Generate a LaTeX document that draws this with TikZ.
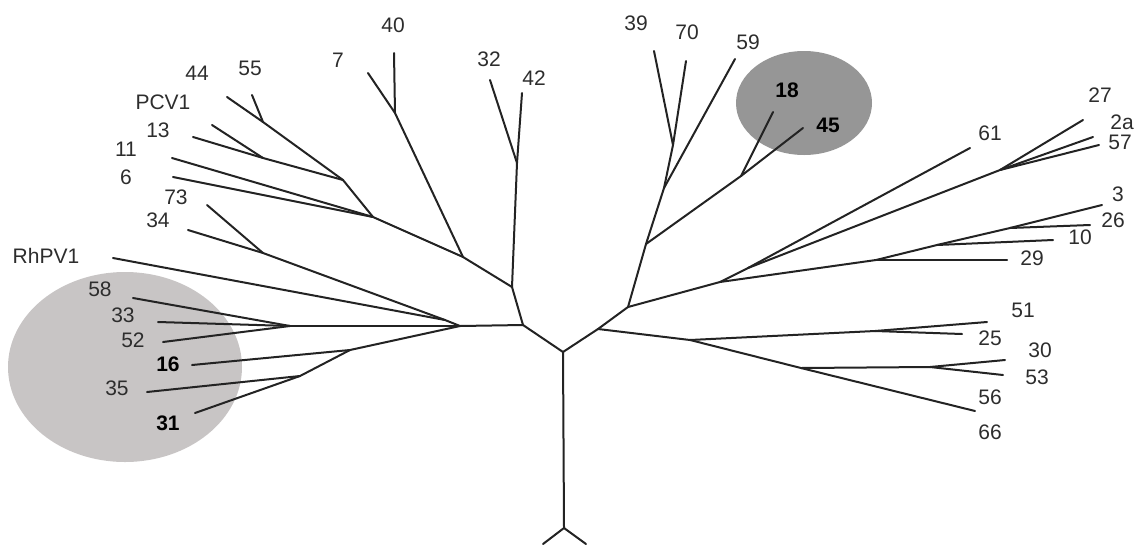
\documentclass[tikz,border=0pt]{standalone}
\usepackage{fontspec}
\setmainfont{Liberation Sans}
\definecolor{linec}{RGB}{35,35,35}
\definecolor{txtc}{RGB}{45,45,45}
\definecolor{blobl}{RGB}{200,197,197}
\definecolor{blobd}{RGB}{150,150,150}
\begin{document}
\begin{tikzpicture}[x=1pt,y=-1pt,
  br/.style={draw=linec, line width=2pt, line cap=round, line join=round},
  lbl/.style={text=txtc, font=\fontsize{21}{21}\selectfont, inner sep=0pt, anchor=center},
  lblb/.style={lbl, text=black, font=\fontsize{21}{21}\selectfont\bfseries}]
\useasboundingbox (0,0) rectangle (1139,544);
% highlighted clusters
\fill[blobl] (125,367) ellipse [x radius=117, y radius=95];
\fill[blobd] (804,103) ellipse [x radius=68, y radius=52];
% ---------- coordinates ----------
\coordinate (R0) at (564,528);
\coordinate (Rb1) at (543,544);
\coordinate (Rb2) at (586,544);
\coordinate (R1) at (563,352);
\coordinate (L1) at (523,325);
\coordinate (U1) at (512,287);
\coordinate (J3242) at (517,163);
\coordinate (t32) at (490,80);
\coordinate (t42) at (522,93);
\coordinate (U2) at (463,257);
\coordinate (J740) at (395,113);
\coordinate (t7) at (368,73);
\coordinate (t40) at (394,53);
\coordinate (JA) at (373,217);
\coordinate (JB) at (343,180);
\coordinate (J4455) at (263,122);
\coordinate (t44) at (227,97);
\coordinate (t55) at (252,95);
\coordinate (JP13) at (263,158);
\coordinate (tPCV) at (212,125);
\coordinate (t13) at (193,137);
\coordinate (t11) at (172,158);
\coordinate (t6) at (173,177);
\coordinate (JL2) at (460,326);
\coordinate (JRh) at (445,320);
\coordinate (tRh) at (113,258);
\coordinate (J7334) at (263,253);
\coordinate (t73) at (207,205);
\coordinate (t34) at (188,230);
\coordinate (LC1) at (290,326);
\coordinate (t58) at (133,298);
\coordinate (t33) at (158,322);
\coordinate (t52) at (163,342);
\coordinate (LC2) at (350,350);
\coordinate (t16) at (192,365);
\coordinate (LC3) at (300,376);
\coordinate (t35) at (147,392);
\coordinate (t31) at (195,413);
\coordinate (Rj1) at (598,329);
\coordinate (Rj2) at (628,307);
\coordinate (Up1) at (646,244);
\coordinate (Up2) at (664,188);
\coordinate (J3970) at (673,145);
\coordinate (t39) at (654,51);
\coordinate (t70) at (686,61);
\coordinate (t59) at (735,59);
\coordinate (J1845) at (741,176);
\coordinate (t18) at (773,112);
\coordinate (t45) at (803,128);
\coordinate (RR) at (720,282);
\coordinate (J6127) at (748,268);
\coordinate (t61) at (970,148);
\coordinate (J27) at (1000,170);
\coordinate (t27) at (1083,120);
\coordinate (t2a) at (1093,137);
\coordinate (t57) at (1099,145);
\coordinate (J29) at (876,260);
\coordinate (t29) at (1007,260);
\coordinate (J10) at (937,245);
\coordinate (t10) at (1053,240);
\coordinate (J326) at (1010,228);
\coordinate (t3) at (1102,205);
\coordinate (t26) at (1090,225);
\coordinate (RL1) at (690,340);
\coordinate (J5125) at (875,331);
\coordinate (t51) at (987,322);
\coordinate (t25) at (962,334);
\coordinate (RL2) at (801,368);
\coordinate (J3053) at (930,367);
\coordinate (t30) at (1005,360);
\coordinate (t53) at (1003,375);
\coordinate (t56) at (975,411);
% ---------- branches ----------
\draw[br] (Rb1) -- (R0) -- (Rb2);
\draw[br] (R0) -- (R1);
\draw[br] (R1) -- (L1);
\draw[br] (R1) -- (Rj1);
% left / upper-left
\draw[br] (L1) -- (U1);
\draw[br] (U1) -- (J3242);
\draw[br] (J3242) -- (t32);
\draw[br] (J3242) -- (t42);
\draw[br] (U1) -- (U2);
\draw[br] (U2) -- (J740);
\draw[br] (J740) -- (t7);
\draw[br] (J740) -- (t40);
\draw[br] (U2) -- (JA);
\draw[br] (JA) -- (JB);
\draw[br] (JB) -- (J4455);
\draw[br] (J4455) -- (t44);
\draw[br] (J4455) -- (t55);
\draw[br] (JB) -- (JP13);
\draw[br] (JP13) -- (tPCV);
\draw[br] (JP13) -- (t13);
\draw[br] (JA) -- (t11);
\draw[br] (JA) -- (t6);
\draw[br] (L1) -- (JL2);
\draw[br] (JL2) -- (JRh);
\draw[br] (JRh) -- (tRh);
\draw[br] (JRh) -- (J7334);
\draw[br] (J7334) -- (t73);
\draw[br] (J7334) -- (t34);
\draw[br] (JL2) -- (LC1);
\draw[br] (LC1) -- (t58);
\draw[br] (LC1) -- (t33);
\draw[br] (LC1) -- (t52);
\draw[br] (JL2) -- (LC2);
\draw[br] (LC2) -- (t16);
\draw[br] (LC2) -- (LC3);
\draw[br] (LC3) -- (t35);
\draw[br] (LC3) -- (t31);
% right / upper-right
\draw[br] (Rj1) -- (Rj2);
\draw[br] (Rj2) -- (Up1);
\draw[br] (Up1) -- (Up2);
\draw[br] (Up2) -- (J3970);
\draw[br] (J3970) -- (t39);
\draw[br] (J3970) -- (t70);
\draw[br] (Up2) -- (t59);
\draw[br] (Up1) -- (J1845);
\draw[br] (J1845) -- (t18);
\draw[br] (J1845) -- (t45);
\draw[br] (Rj2) -- (RR);
\draw[br] (RR) -- (J6127);
\draw[br] (J6127) -- (t61);
\draw[br] (J6127) -- (J27);
\draw[br] (J27) -- (t27);
\draw[br] (J27) -- (t2a);
\draw[br] (J27) -- (t57);
\draw[br] (RR) -- (J29);
\draw[br] (J29) -- (t29);
\draw[br] (J29) -- (J10);
\draw[br] (J10) -- (t10);
\draw[br] (J10) -- (J326);
\draw[br] (J326) -- (t3);
\draw[br] (J326) -- (t26);
% lower right
\draw[br] (Rj1) -- (RL1);
\draw[br] (RL1) -- (J5125);
\draw[br] (J5125) -- (t51);
\draw[br] (J5125) -- (t25);
\draw[br] (RL1) -- (RL2);
\draw[br] (RL2) -- (J3053);
\draw[br] (J3053) -- (t30);
\draw[br] (J3053) -- (t53);
\draw[br] (RL2) -- (t56);
% ---------- labels ----------
\node[lbl] (l44) at (197,73) {44};
\node[lbl] (l55) at (250,68) {55};
\node[lbl] (lPCV) at (163,102) {PCV1};
\node[lbl] (l13) at (158,130) {13};
\node[lbl] (l11) at (126,149) {11};
\node[lbl] (l6) at (126,177) {6};
\node[lbl] (l73) at (176,197) {73};
\node[lbl] (l34) at (158,220) {34};
\node[lbl] (lRh) at (46,256) {RhPV1};
\node[lbl] (l7) at (338,60) {7};
\node[lbl] (l40) at (393,25) {40};
\node[lbl] (l32) at (489,59) {32};
\node[lbl] (l42) at (534,78) {42};
\node[lbl] (l39) at (636,23) {39};
\node[lbl] (l70) at (687,32) {70};
\node[lbl] (l59) at (748,42) {59};
\node[lblb] (l18) at (787,90) {18};
\node[lblb] (l45) at (828,125) {45};
\node[lbl] (l61) at (990,133) {61};
\node[lbl] (l27) at (1100,95) {27};
\node[lbl] (l2a) at (1122,122) {2a};
\node[lbl] (l57) at (1120,142) {57};
\node[lbl] (l3) at (1118,194) {3};
\node[lbl] (l26) at (1113,220) {26};
\node[lbl] (l10) at (1080,237) {10};
\node[lbl] (l29) at (1032,258) {29};
\node[lbl] (l51) at (1023,310) {51};
\node[lbl] (l25) at (990,338) {25};
\node[lbl] (l30) at (1040,350) {30};
\node[lbl] (l53) at (1037,377) {53};
\node[lbl] (l56) at (990,397) {56};
\node[lbl] (l66) at (990,432) {66};
\node[lbl] (l58) at (100,289) {58};
\node[lbl] (l33) at (123,315) {33};
\node[lbl] (l52) at (133,340) {52};
\node[lblb] (l16) at (168,364) {16};
\node[lbl] (l35) at (117,388) {35};
\node[lblb] (l31) at (168,423) {31};
\end{tikzpicture}
\end{document}
